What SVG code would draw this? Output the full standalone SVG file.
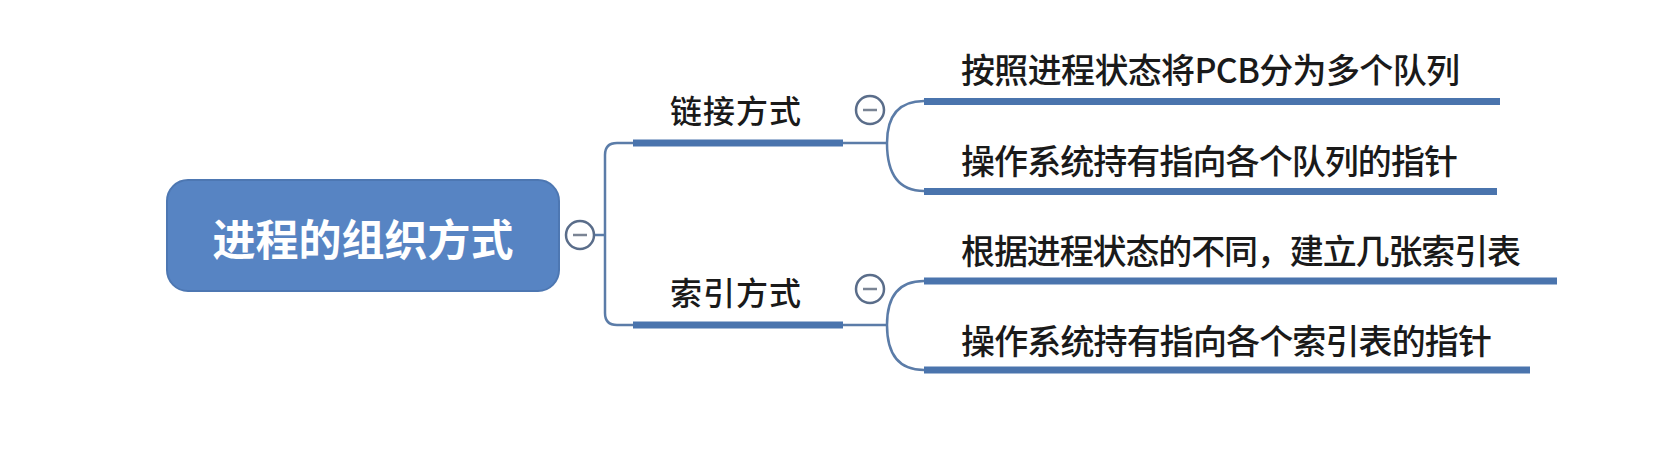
<svg xmlns="http://www.w3.org/2000/svg" width="1659" height="457" viewBox="0 0 1659 457">
<style>
.bg{fill:#ffffff}
.root{fill:#5784c3;stroke:#4d77b2;stroke-width:2}
.rt{font-family:"Noto Sans CJK SC","Noto Sans",sans-serif;font-weight:700;font-size:43px;fill:#ffffff}
.lb{font-family:"Noto Sans CJK SC","Noto Sans",sans-serif;font-weight:500;font-size:32px;fill:#1a1a1a}
.tx{font-family:"Noto Sans CJK SC","Noto Sans",sans-serif;font-weight:500;font-size:34px;fill:#1a1a1a}
.bar{stroke:#4a74ad;stroke-width:7;fill:none}
.ln{stroke:#5b7ca8;stroke-width:2.5;fill:none}
.btn{fill:#ffffff;stroke:#5a6d8a;stroke-width:2.5}
.minus{stroke:#7a8494;stroke-width:2.5}
</style>
<rect class="bg" x="0" y="0" width="1659" height="457"/>
<g id="connectors">
<path class="ln" d="M594,235 H605"/>
<path class="ln" d="M633,143 H617 Q605,143 605,155 V313 Q605,325 617,325 H633"/>
<path class="ln" d="M843,143 H887"/>
<path class="ln" d="M887,143 Q887,101 924,101"/>
<path class="ln" d="M887,143 Q887,191 924,191"/>
<path class="ln" d="M843,325 H887"/>
<path class="ln" d="M887,325 Q887,281 924,281"/>
<path class="ln" d="M887,325 Q887,370 924,370"/>
</g>
<g id="root">
<rect class="root" x="167" y="180" width="392" height="111" rx="21"/>
<text class="rt" x="363" y="256" text-anchor="middle" textLength="301">进程的组织方式</text>
<circle class="btn" cx="580" cy="235" r="14"/>
<line class="minus" x1="573" y1="235" x2="587" y2="235"/>
</g>
<g id="n-link">
<line class="bar" x1="633" y1="143" x2="843" y2="143"/>
<text class="lb" x="670" y="123" textLength="131">链接方式</text>
<circle class="btn" cx="870" cy="110" r="14"/>
<line class="minus" x1="863" y1="110" x2="877" y2="110"/>
</g>
<g id="n-index">
<line class="bar" x1="633" y1="325" x2="843" y2="325"/>
<text class="lb" x="670" y="305" textLength="131">索引方式</text>
<circle class="btn" cx="870" cy="289" r="14"/>
<line class="minus" x1="863" y1="289" x2="877" y2="289"/>
</g>
<g id="n-link-1">
<line class="bar" x1="924" y1="101.5" x2="1500" y2="101.5"/>
<text class="tx" x="961" y="83" textLength="499">按照进程状态将PCB分为多个队列</text>
</g>
<g id="n-link-2">
<line class="bar" x1="924" y1="191.5" x2="1497" y2="191.5"/>
<text class="tx" x="961" y="174" textLength="497">操作系统持有指向各个队列的指针</text>
</g>
<g id="n-index-1">
<line class="bar" x1="924" y1="281" x2="1557" y2="281"/>
<text class="tx" x="961" y="264" textLength="560">根据进程状态的不同，建立几张索引表</text>
</g>
<g id="n-index-2">
<line class="bar" x1="924" y1="370" x2="1530" y2="370"/>
<text class="tx" x="961" y="354" textLength="531">操作系统持有指向各个索引表的指针</text>
</g>
</svg>
